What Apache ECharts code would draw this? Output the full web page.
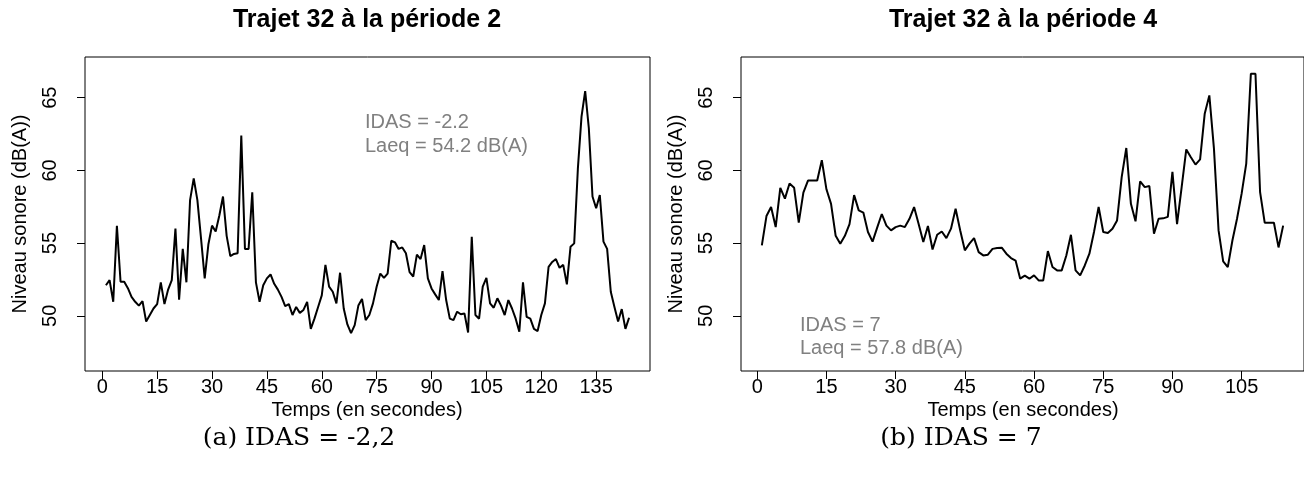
<!DOCTYPE html>
<html>
<head>
<meta charset="utf-8">
<script src="https://cdn.jsdelivr.net/npm/echarts@6.0.0/dist/echarts.min.js"></script>
<style>
html,body{margin:0;padding:0;background:#fff;}
#chart{width:1304px;height:491px;}
</style>
</head>
<body>
<div id="chart"></div>
<script>
// Trajet 32, période 2 (seconds 1..144)
const leftValues = [
  52.1, 52.45, 50.96, 56.19, 52.34, 52.34, 51.9, 51.3, 50.96, 50.7,
  51.0, 49.6, 50.05, 50.5, 50.8, 52.3, 50.8, 51.8, 52.45, 56.0,
  51.1, 54.6, 52.3, 57.96, 59.45, 57.96, 55.3, 52.57, 54.9, 56.2,
  55.8, 56.9, 58.2, 55.5, 54.1, 54.25, 54.3, 62.4, 54.6, 54.6,
  58.5, 52.3, 50.96, 52.1, 52.57, 52.84, 52.2, 51.8, 51.3, 50.67,
  50.8, 50.05, 50.6, 50.2, 50.4, 50.96, 49.1, 49.8, 50.6, 51.4,
  53.5, 52.0, 51.65, 50.85, 52.96, 50.5, 49.4, 48.8, 49.36, 50.7,
  51.15, 49.7, 50.05, 50.85, 52.0, 52.9, 52.6, 52.9, 55.16, 55.05,
  54.6, 54.7, 54.3, 53.0, 52.7, 54.2, 53.9, 54.86, 52.57, 51.88,
  51.47, 51.08, 53.07, 51.08, 49.8, 49.7, 50.28, 50.1, 50.16, 48.85,
  55.44, 50.05, 49.8, 52.0, 52.6, 50.85, 50.55, 51.2, 50.7, 50.05,
  51.08, 50.5, 49.8, 48.9, 52.3, 49.93, 49.8, 49.1, 48.95, 50.05,
  50.85, 53.37, 53.7, 53.9, 53.3, 53.5, 52.16, 54.75, 54.98, 60.1,
  63.7, 65.46, 62.9, 58.2, 57.4, 58.3, 55.1, 54.6, 51.65, 50.6,
  49.6, 50.46, 49.1, 49.86
];
// Trajet 32, période 4 (seconds 1..114)
const rightValues = [
  54.84, 56.86, 57.48, 56.1, 58.8, 58.06, 59.1, 58.8, 56.4, 58.47,
  59.3, 59.3, 59.3, 60.7, 58.7, 57.7, 55.5, 54.96, 55.5, 56.3,
  58.3, 57.25, 57.1, 55.76, 55.1, 56.06, 57.0, 56.2, 55.87, 56.1,
  56.2, 56.1, 56.67, 57.48, 56.3, 55.07, 56.17, 54.56, 55.57, 55.8,
  55.34, 55.99, 57.36, 55.87, 54.5, 54.96, 55.34, 54.38, 54.15, 54.2,
  54.6, 54.66, 54.68, 54.27, 53.97, 53.8, 52.55, 52.76, 52.55, 52.78,
  52.43, 52.43, 54.45, 53.35, 53.12, 53.12, 54.15, 55.57, 53.12, 52.78,
  53.46, 54.27, 55.76, 57.48, 55.76, 55.7, 55.99, 56.56, 59.54, 61.54,
  57.7, 56.5, 59.24, 58.85, 58.92, 55.64, 56.67, 56.7, 56.8, 59.9,
  56.3, 58.85, 61.44, 60.9, 60.4, 60.76, 63.9, 65.16, 61.5, 55.87,
  53.74, 53.35, 55.18, 56.67, 58.4, 60.46, 66.65, 66.65, 58.5, 56.4,
  56.4, 56.4, 54.7, 56.2
];
const xTicksLeft = [0, 15, 30, 45, 60, 75, 90, 105, 120, 135];
const xTicksRight = [0, 15, 30, 45, 60, 75, 90, 105];
const yTicks = [50, 55, 60, 65];
const titles = ['Trajet 32 à la période 2', 'Trajet 32 à la période 4'];
const annotLeft = ['IDAS = -2.2', 'Laeq = 54.2 dB(A)'];
const annotRight = ['IDAS = 7', 'Laeq = 57.8 dB(A)'];
const captions = ['(a) IDAS = -2,2', '(b) IDAS = 7'];
const xName = 'Temps (en secondes)';
const yName = 'Niveau sonore (dB(A))';

const SANS = '"Liberation Sans", Arial, sans-serif';
const SERIF = '"DejaVu Serif", serif';

function toPairs(vals){ return vals.map((v,i)=>[i+1, v]); }

function xAxisCfg(idx, min, max, ticks){
  return {
    gridIndex: idx, type: 'value', min: min, max: max,
    axisLine: {show: false, onZero: false}, splitLine: {show: false},
    axisTick: {show: true, length: 8, customValues: ticks, lineStyle: {color: '#000', width: 1}},
    axisLabel: {customValues: ticks, fontSize: 20, color: '#000', margin: 6, fontFamily: SANS}
  };
}
function yAxisCfg(idx){
  return {
    gridIndex: idx, type: 'value', min: 46.2, max: 67.8,
    axisLine: {show: false, onZero: false}, splitLine: {show: false},
    axisTick: {show: true, length: 8, customValues: yTicks, lineStyle: {color: '#000', width: 1}},
    axisLabel: {customValues: yTicks, fontSize: 20, color: '#000', margin: 25, rotate: 90, fontFamily: SANS}
  };
}
function txt(x, y, text, font, fill, align, rot){
  return {type: 'text', x: x, y: y, rotation: rot || 0, silent: true,
    style: {text: text, font: font, fill: fill || '#000', textAlign: align || 'center', textVerticalAlign: 'middle'}};
}

const chart = echarts.init(document.getElementById('chart'), null, {renderer: 'canvas'});
chart.setOption({
  animation: false,
  backgroundColor: '#fff',
  textStyle: {fontFamily: SANS},
  grid: [
    {left: 85, top: 57, width: 565, height: 314, show: true, borderColor: '#000', borderWidth: 1, backgroundColor: 'transparent', containLabel: false},
    {left: 741, top: 57, width: 565, height: 314, show: true, borderColor: '#000', borderWidth: 1, backgroundColor: 'transparent', containLabel: false}
  ],
  xAxis: [xAxisCfg(0, -4.72, 149.72, xTicksLeft), xAxisCfg(1, -3.52, 118.52, xTicksRight)],
  yAxis: [yAxisCfg(0), yAxisCfg(1)],
  series: [
    {type: 'line', xAxisIndex: 0, yAxisIndex: 0, data: toPairs(leftValues), showSymbol: false, symbol: 'none',
     lineStyle: {color: '#000', width: 2}, clip: false},
    {type: 'line', xAxisIndex: 1, yAxisIndex: 1, data: toPairs(rightValues), showSymbol: false, symbol: 'none',
     lineStyle: {color: '#000', width: 2}, clip: false}
  ],
  graphic: [
    txt(367, 20, titles[0], 'bold 25px ' + SANS),
    txt(1023, 20, titles[1], 'bold 25px ' + SANS),
    txt(20, 214, yName, '20px ' + SANS, '#000', 'center', Math.PI/2),
    txt(676, 214, yName, '20px ' + SANS, '#000', 'center', Math.PI/2),
    txt(367, 410, xName, '20px ' + SANS),
    txt(1023, 410, xName, '20px ' + SANS),
    txt(365, 122, annotLeft[0], '20px ' + SANS, '#808080', 'left'),
    txt(365, 146, annotLeft[1], '20px ' + SANS, '#808080', 'left'),
    txt(800, 325, annotRight[0], '20px ' + SANS, '#808080', 'left'),
    txt(800, 348, annotRight[1], '20px ' + SANS, '#808080', 'left'),
    txt(299, 438, captions[0], '25px ' + SERIF),
    txt(961, 438, captions[1], '25px ' + SERIF)
  ]
});
</script>
</body>
</html>
